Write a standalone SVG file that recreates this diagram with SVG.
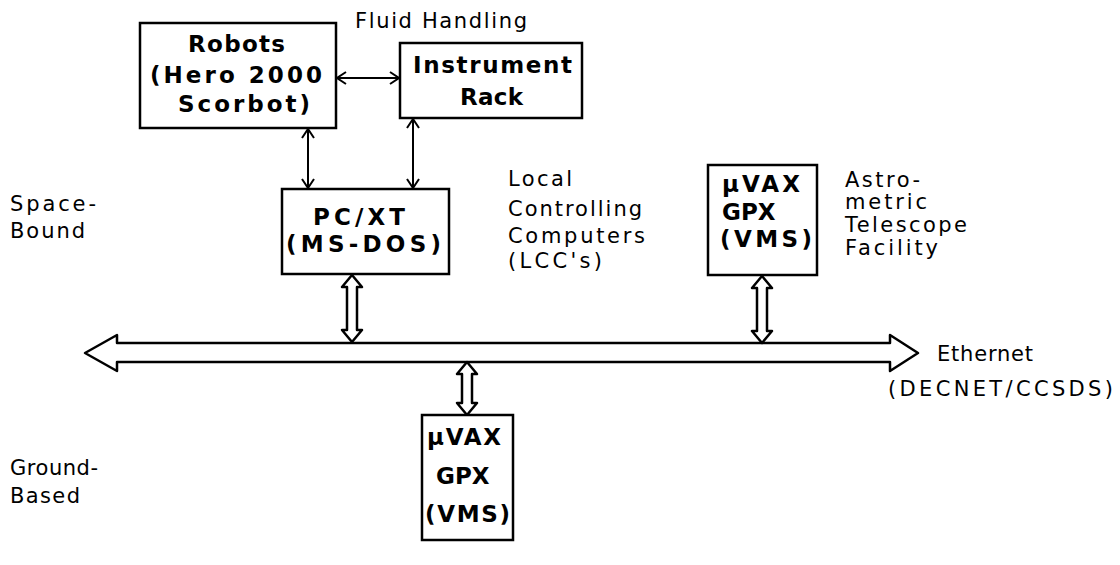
<svg xmlns="http://www.w3.org/2000/svg" width="1120" height="565" viewBox="0 0 1120 565">
<style>
.box{fill:#fff;stroke:#000;stroke-width:2.5}
.bt{font-family:"DejaVu Sans",sans-serif;font-weight:bold;font-size:23px;fill:#000}
.lb{font-family:"DejaVu Sans",sans-serif;font-size:21px;fill:#000}
.thin{fill:none;stroke:#000;stroke-width:2;marker-start:url(#ch);marker-end:url(#ch)}
.hol{fill:#fff;stroke:#000;stroke-width:2.5;stroke-linejoin:round}
</style>
<defs>
<marker id="ch" viewBox="0 0 10 14" refX="10" refY="7" markerWidth="10" markerHeight="14" markerUnits="userSpaceOnUse" orient="auto-start-reverse">
<path d="M1,1 L10,7 L1,13" fill="none" stroke="#000" stroke-width="2"/>
</marker>
</defs>
<rect width="1120" height="565" fill="#fff"/>
<g id="connectors">
<line class="thin" x1="337" y1="78" x2="399" y2="78"/>
<line class="thin" x1="308" y1="129" x2="308" y2="188"/>
<line class="thin" x1="413" y1="119" x2="413" y2="188"/>
<path id="bus" class="hol" d="M85,353 L117,335 L117,343 L890,343 L890,335 L918,353 L890,371 L890,362 L117,362 L117,371 Z"/>
<path class="hol" d="M352,275 L362,287 L357,287 L357,330 L362,330 L352,342 L342,330 L347,330 L347,287 L342,287 Z"/>
<path class="hol" d="M762,276 L772,288 L767,288 L767,331 L772,331 L762,343 L752,331 L757,331 L757,288 L752,288 Z"/>
<path class="hol" d="M467,362 L477,374 L472,374 L472,403 L477,403 L467,415 L457,403 L462,403 L462,374 L457,374 Z"/>
</g>
<g id="robots">
<rect class="box" x="140" y="23" width="196" height="105"/>
<text class="bt" x="188" y="52" textLength="97" lengthAdjust="spacing">Robots</text>
<text class="bt" x="150" y="83" textLength="172" lengthAdjust="spacing">(Hero 2000</text>
<text class="bt" x="178" y="112" textLength="132" lengthAdjust="spacing">Scorbot)</text>
</g>
<g id="instrument-rack">
<rect class="box" x="400" y="43" width="182" height="75"/>
<text class="bt" x="413" y="73" textLength="159" lengthAdjust="spacing">Instrument</text>
<text class="bt" x="460" y="105" textLength="63" lengthAdjust="spacing">Rack</text>
</g>
<g id="pcxt">
<rect class="box" x="282" y="189" width="167" height="85"/>
<text class="bt" x="313" y="225" textLength="92" lengthAdjust="spacing">PC/XT</text>
<text class="bt" x="286" y="252" textLength="155" lengthAdjust="spacing">(MS-DOS)</text>
</g>
<g id="uvax-top">
<rect class="box" x="708" y="165" width="109" height="110"/>
<text class="bt" x="722" y="192" textLength="78" lengthAdjust="spacing">µVAX</text>
<text class="bt" x="722" y="220">GPX</text>
<text class="bt" x="720" y="247" textLength="92" lengthAdjust="spacing">(VMS)</text>
</g>
<g id="uvax-bottom">
<rect class="box" x="422" y="415" width="91" height="125"/>
<text class="bt" x="427" y="445" textLength="74" lengthAdjust="spacing">µVAX</text>
<text class="bt" x="436" y="484">GPX</text>
<text class="bt" x="425" y="522" textLength="85" lengthAdjust="spacing">(VMS)</text>
</g>
<g id="labels">
<text class="lb" x="355" y="28" textLength="172" lengthAdjust="spacing">Fluid Handling</text>
<text class="lb" x="10" y="211" textLength="86" lengthAdjust="spacing">Space-</text>
<text class="lb" x="10" y="238" textLength="75" lengthAdjust="spacing">Bound</text>
<text class="lb" x="10" y="475" textLength="88" lengthAdjust="spacing">Ground-</text>
<text class="lb" x="10" y="503" textLength="70" lengthAdjust="spacing">Based</text>
<text class="lb" x="508" y="186" textLength="64" lengthAdjust="spacing">Local</text>
<text class="lb" x="508" y="216" textLength="134" lengthAdjust="spacing">Controlling</text>
<text class="lb" x="508" y="243" textLength="137" lengthAdjust="spacing">Computers</text>
<text class="lb" x="508" y="268" textLength="94" lengthAdjust="spacing">(LCC's)</text>
<text class="lb" x="845" y="187" textLength="75" lengthAdjust="spacing">Astro-</text>
<text class="lb" x="845" y="209" textLength="82" lengthAdjust="spacing">metric</text>
<text class="lb" x="845" y="232" textLength="122" lengthAdjust="spacing">Telescope</text>
<text class="lb" x="845" y="255" textLength="93" lengthAdjust="spacing">Facility</text>
<text class="lb" x="937" y="361" textLength="96" lengthAdjust="spacing">Ethernet</text>
<text class="lb" x="888" y="396" textLength="225" lengthAdjust="spacing">(DECNET/CCSDS)</text>
</g>
</svg>
